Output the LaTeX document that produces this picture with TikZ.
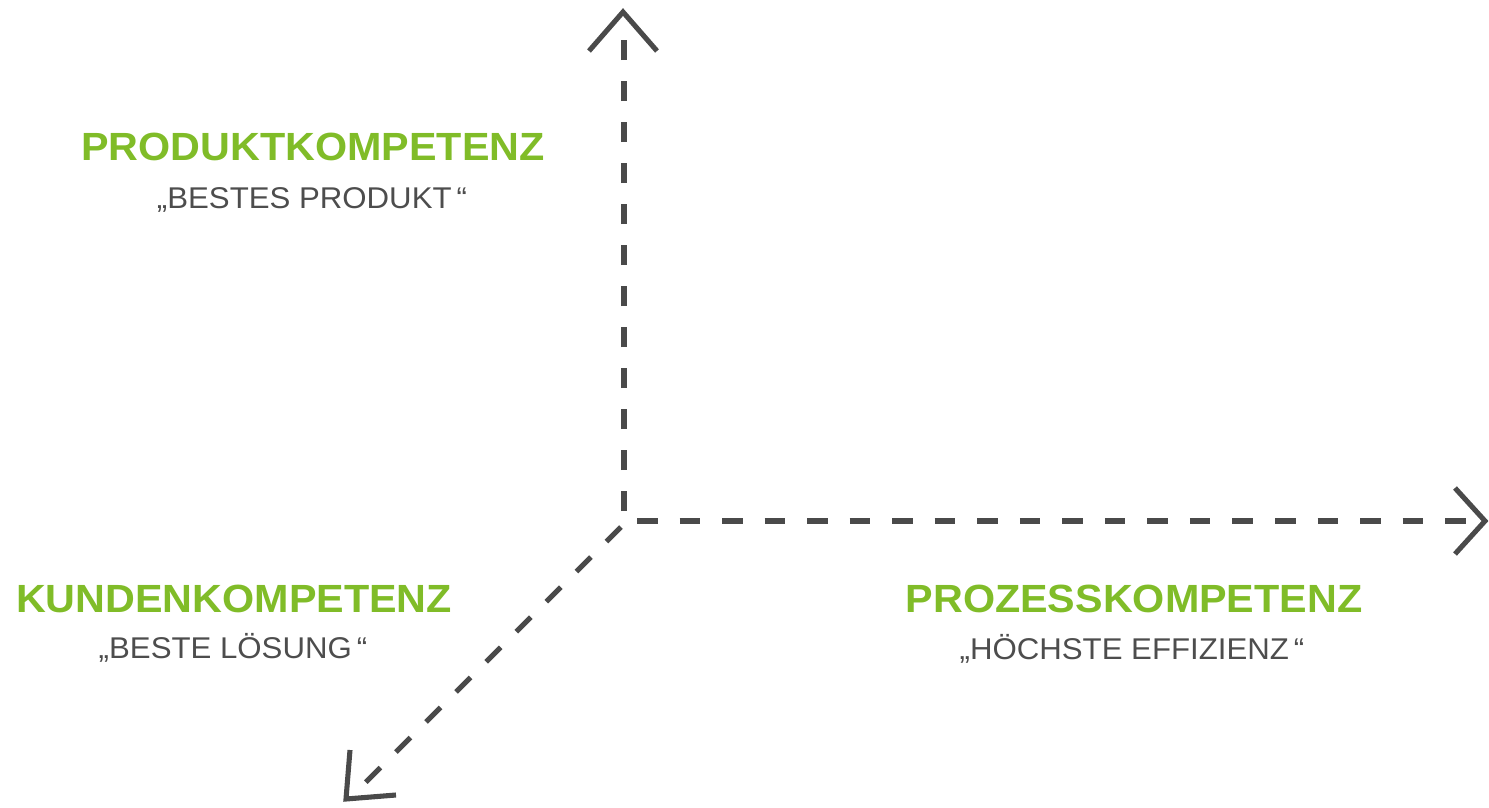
\documentclass[tikz,border=0pt]{standalone}
\usepackage{fontspec}
\setmainfont{Liberation Sans}
\newfontfamily\titlefont[FakeStretch=1.05]{Liberation Sans}
\newfontfamily\subfont[FakeStretch=1.04]{Liberation Sans}
\definecolor{axisgray}{HTML}{4A4A4A}
\definecolor{textgray}{HTML}{4D4D4D}
\definecolor{kgreen}{HTML}{80BC28}
\begin{document}
\begin{tikzpicture}[x=0.75pt,y=-0.75pt,
  axisline/.style={draw=axisgray,line width=3.8pt,line cap=butt},
  dashv/.style={axisline,dash pattern=on 15pt off 15.75pt},
  dashh/.style={axisline,dash pattern=on 15.4pt off 16.5pt},
  chevron/.style={draw=axisgray,line width=3.8pt,line join=miter,line cap=butt},
  title/.style={anchor=base,inner sep=0pt,text=kgreen,font=\titlefont\fontsize{29.5pt}{30pt}\selectfont\bfseries},
  subtitle/.style={anchor=base,inner sep=0pt,text=textgray,font=\subfont\fontsize{22.5pt}{23pt}\selectfont}]
\useasboundingbox (0,0) rectangle (1489,807);
% axes
\coordinate (vs) at (624,511);
\coordinate (ve) at (624,36);
\coordinate (hs) at (637,521);
\coordinate (he) at (1470,521);
\coordinate (ds) at (621,527);
\coordinate (de) at (364,784);
\draw[dashv] (vs) -- (ve);
\draw[dashh] (hs) -- (he);
\draw[dashh] (ds) -- (de);
% arrow heads
\coordinate (ta) at (623,12);
\coordinate (tl) at (589,51);
\coordinate (tr) at (657,51);
\draw[chevron] (tl) -- (ta) -- (tr);
\coordinate (ra) at (1485,521);
\coordinate (ru) at (1455,488);
\coordinate (rd) at (1455,554);
\draw[chevron] (ru) -- (ra) -- (rd);
\coordinate (da) at (346,799);
\coordinate (du) at (350,750);
\coordinate (dr) at (396,795);
\draw[chevron] (du) -- (da) -- (dr);
% labels
\node[title] (t1) at (313,160) {PRODUKTKOMPETENZ};
\node[subtitle] (s1) at (312,208) {„BESTES PRODUKT\,“};
\node[title] (t2) at (234,612) {KUNDENKOMPETENZ};
\node[subtitle] (s2) at (233,658) {„BESTE LÖSUNG\,“};
\node[title] (t3) at (1134,612) {PROZESSKOMPETENZ};
\node[subtitle] (s3) at (1132,659) {„HÖCHSTE EFFIZIENZ\,“};
\end{tikzpicture}
\end{document}
